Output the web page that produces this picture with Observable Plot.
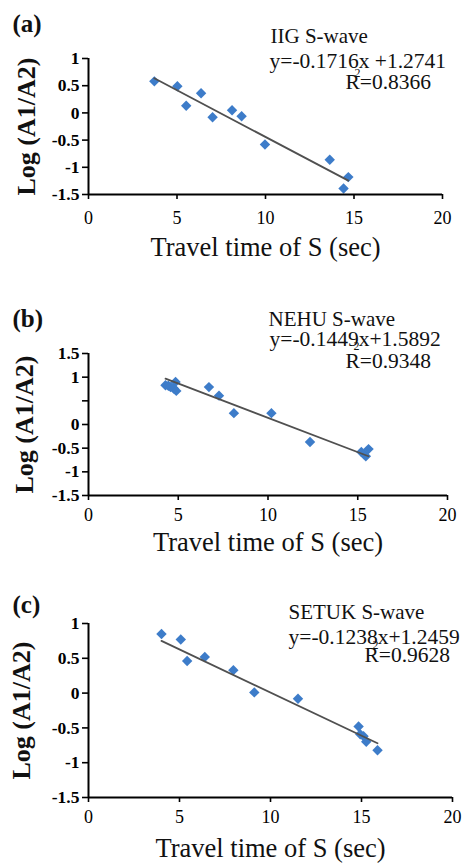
<!DOCTYPE html>
<html><head><meta charset="utf-8">
<script src="https://cdn.jsdelivr.net/npm/d3@7"></script>
<script src="https://cdn.jsdelivr.net/npm/@observablehq/plot@0.6"></script>
<style>
body{margin:0;background:#fff;}
#chart{width:463px;}
#chart svg{display:block;}
</style></head><body><div id="chart"></div>
<script>
// ---------- data ----------
const xTicks = [0, 5, 10, 15, 20];
const xTickLabels = ["0", "5", "10", "15", "20"];

// (a) IIG
const iigTime = [3.72, 5.02, 5.52, 6.36, 7.01, 8.11, 8.65, 9.97, 13.63, 14.68, 14.41];
const iigLog  = [0.58, 0.49, 0.13, 0.36, -0.08, 0.05, -0.06, -0.58, -0.86, -1.18, -1.39];
// (b) NEHU
const nehuTime = [4.29, 4.45, 4.57, 4.75, 4.85, 4.89, 6.71, 7.27, 8.10, 10.19, 12.34, 15.20, 15.35, 15.45, 15.60];
const nehuLog  = [0.83, 0.82, 0.79, 0.76, 0.90, 0.71, 0.79, 0.61, 0.24, 0.24, -0.37, -0.58, -0.63, -0.67, -0.52];
// (c) SETUK
const setukTime = [4.01, 5.07, 5.42, 6.39, 7.96, 9.11, 11.51, 14.84, 14.93, 15.11, 15.26, 15.88];
const setukLog  = [0.85, 0.77, 0.46, 0.52, 0.33, 0.01, -0.08, -0.48, -0.59, -0.62, -0.70, -0.82];

const panelLetters = ["(a)", "(b)", "(c)"];
const stationNames = ["IIG S-wave", "NEHU S-wave", "SETUK S-wave"];
const equations = ["y=-0.1716x +1.2741", "y=-0.1449x+1.5892", "y=-0.1238x+1.2459"];
const r2Labels = ["R=0.8366", "R=0.9348", "R=0.9628"];
const slopes = [-0.1716, -0.1449, -0.1238];
const intercepts = [1.2741, 1.5892, 1.2459];

const yDomains = [[-1.5, 1], [-1.5, 1.5], [-1.5, 1]];
const yTicksA = [-1.5, -1, -0.5, 0, 0.5, 1];
const yTickLabelsA = ["-1.5", "-1", "-0.5", "0", "0.5", "1"];
const yTicksB = [-1.5, -1, -0.5, 0, 0.5, 1, 1.5];
const yTickLabelsB = ["-1.5", "-1", "-0.5", "0", "", "1", "1.5"];
const yTicksC = [-1.5, -1, -0.5, 0, 0.5, 1];
const yTickLabelsC = ["-1.5", "-1", "-0.5", "0", "0.5", "1"];

const xTitle = "Travel time of S (sec)";
const yTitle = "Log (A1/A2)";

// ---------- layout ----------
const FONT = "Liberation Serif, Times New Roman, serif";
const layouts = [
  {height: 290, mt: 58, mb: 96, ml: 88, mr: 21, tickPad: 12, titleDy: 53, yTitleDx: -62,
   letter: [12, 23], station: [270, 36], eq: [269, 61], r2: [345, 82], sup: [354, 73]},
  {height: 290, mt: 63, mb: 85, ml: 88, mr: 16, tickPad: 8, titleDy: 47, yTitleDx: -64,
   letter: [12, 28], station: [268, 29], eq: [269, 49], r2: [345, 71], sup: [353, 56]},
  {height: 283, mt: 43, mb: 66, ml: 88, mr: 11, tickPad: 8, titleDy: 51, yTitleDx: -67,
   letter: [12, 24], station: [288, 32], eq: [288, 57], r2: [364, 75], sup: [372, 65]}
];

const panels = [
  {time: iigTime, log: iigLog, yTicks: yTicksA, yLabels: yTickLabelsA},
  {time: nehuTime, log: nehuLog, yTicks: yTicksB, yLabels: yTickLabelsB},
  {time: setukTime, log: setukLog, yTicks: yTicksC, yLabels: yTickLabelsC}
];

function label(L, pos, str, opts) {
  return Plot.text([str], Object.assign({
    frameAnchor: "top-left", dx: pos[0] - L.ml, dy: pos[1] - L.mt,
    text: d => d, textAnchor: "start", lineAnchor: "middle", fill: "#111", fontFamily: FONT
  }, opts));
}

const chart = document.getElementById("chart");
panels.forEach((p, k) => {
  const L = layouts[k];
  const pts = p.time.map((t, i) => ({t, v: p.log[i]}));
  const x0 = d3.min(p.time), x1 = d3.max(p.time);
  const fit = [x0, x1].map(t => ({t, v: slopes[k] * t + intercepts[k]}));
  const yMap = new Map(p.yTicks.map((d, i) => [d, p.yLabels[i]]));
  const xMap = new Map(xTicks.map((d, i) => [d, xTickLabels[i]]));
  const svg = Plot.plot({
    width: 463, height: L.height,
    marginTop: L.mt, marginBottom: L.mb, marginLeft: L.ml, marginRight: L.mr,
    x: {domain: [0, 20], label: null},
    y: {domain: yDomains[k], label: null},
    style: {fontFamily: FONT, background: "#fff", color: "#000", overflow: "visible"},
    marks: [
      Plot.dot(pts, {x: "t", y: "v", symbol: "diamond2", r: 4.7, fill: "#3d7cc9", stroke: "none"}),
      Plot.line(fit, {x: "t", y: "v", stroke: "#505050", strokeWidth: 1.8}),
      Plot.ruleY([yDomains[k][0]], {stroke: "#000", strokeWidth: 2}),
      Plot.ruleX([0], {stroke: "#000", strokeWidth: 2}),
      Plot.axisY(p.yTicks, {tickSize: 6, tickPadding: 3, strokeWidth: 1.6, label: null,
        tickFormat: d => yMap.get(d), fontSize: 17.5, fontWeight: "bold", fontFamily: FONT}),
      Plot.axisX(xTicks, {tickSize: 5, tickPadding: L.tickPad, strokeWidth: 1.6, label: null,
        tickFormat: d => xMap.get(d), fontSize: 18, fontFamily: FONT}),
      Plot.text([xTitle], {frameAnchor: "bottom", dy: L.titleDy, text: d => d, fontSize: 26.5,
        fill: "#111", fontFamily: FONT, textAnchor: "middle", lineAnchor: "middle"}),
      Plot.text([yTitle], {frameAnchor: "left", dx: L.yTitleDx, rotate: -90, text: d => d,
        fontSize: 26, fontWeight: "bold", fill: "#111", fontFamily: FONT,
        textAnchor: "middle", lineAnchor: "middle"}),
      label(L, L.letter, panelLetters[k], {fontSize: 25, fontWeight: "bold"}),
      label(L, L.station, stationNames[k], {fontSize: 21}),
      label(L, L.eq, equations[k], {fontSize: 21.5}),
      label(L, L.r2, r2Labels[k], {fontSize: 21.5}),
      label(L, L.sup, "2", {fontSize: 12})
    ]
  });
  chart.appendChild(svg);
});
</script>
</body></html>
